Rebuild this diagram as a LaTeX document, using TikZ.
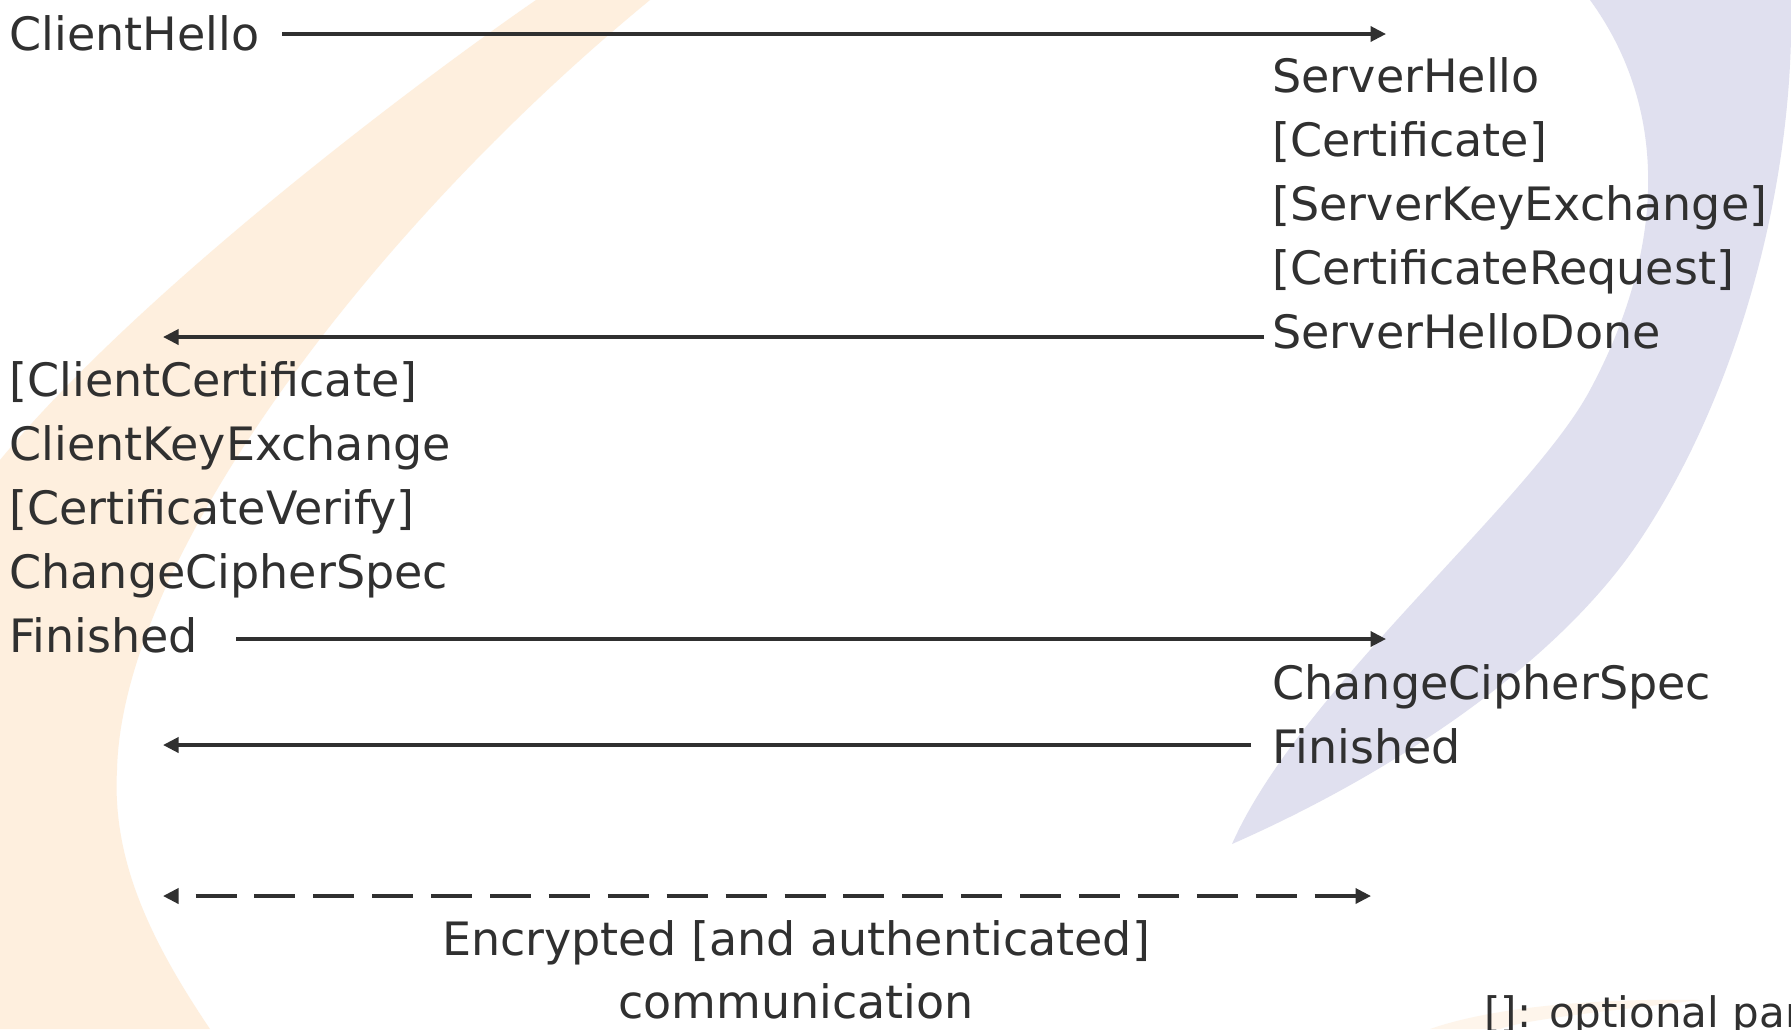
\documentclass[tikz,border=0pt]{standalone}
\usepackage{fontspec}
\setmainfont{DejaVu Sans}
\usetikzlibrary{arrows.meta}
\definecolor{ink}{HTML}{303030}
\definecolor{peach}{HTML}{FEEFDE}
\definecolor{lilac}{HTML}{E0E0EF}
\begin{document}
\begin{tikzpicture}[x=0.5pt,y=-0.5pt,
  >={Triangle[length=7.75pt,width=7.5pt]},
  msg/.style={draw=ink, line width=1.75pt, ->},
  lbl/.style={anchor=base west, inner sep=0pt, text=ink,
              font=\fontsize{23}{32}\selectfont},
  clbl/.style={lbl, anchor=base},
]
% canvas
\clip (0,0) rectangle (1791,1029);
\fill[white] (0,0) rectangle (1791,1029);

% left swoosh (peach crescent)
\fill[peach] (536,0) .. controls (420,80) and (140,290) .. (0,460)
  -- (0,1029) -- (210,1029)
  .. controls (150,940) and (112,860) .. (117,770)
  .. controls (122,560) and (370,230) .. (650,0) -- cycle;

% right swoosh (lilac crescent)
\fill[lilac] (1590,0) .. controls (1670,110) and (1665,250) .. (1590,390)
  .. controls (1530,502) and (1300,690) .. (1232,844)
  .. controls (1400,770) and (1560,660) .. (1640,540)
  .. controls (1740,390) and (1795,180) .. (1791,0) -- cycle;

% faint swoosh at the lower right
\fill[peach!60] (1430,1029) .. controls (1490,1008) and (1590,998) .. (1700,1000)
  .. controls (1620,1010) and (1530,1018) .. (1500,1029) -- cycle;

% client messages
\node[lbl] (clienthello) at (9,50) {ClientHello};
\node[lbl] (clientcert)  at (9,396) {[ClientCertificate]};
\node[lbl] (clientkx)    at (9,460) {ClientKeyExchange};
\node[lbl] (certverify)  at (9,524) {[CertificateVerify]};
\node[lbl] (clientccs)   at (9,588) {ChangeCipherSpec};
\node[lbl] (clientfin)   at (9,652) {Finished};

% server messages
\node[lbl] (serverhello) at (1272,92)  {ServerHello};
\node[lbl] (servercert)  at (1272,156) {[Certificate]};
\node[lbl] (serverkx)    at (1272,220) {[ServerKeyExchange]};
\node[lbl] (certreq)     at (1272,284) {[CertificateRequest]};
\node[lbl] (hellodone)   at (1272,348) {ServerHelloDone};
\node[lbl] (serverccs)   at (1272,699) {ChangeCipherSpec};
\node[lbl] (serverfin)   at (1272,763) {Finished};

% application data label and legend
\node[clbl] (enc1) at (796,955)  {Encrypted [and authenticated]};
\node[clbl] (enc2) at (796,1018) {communication};
\node[lbl, font=\fontsize{21}{28}\selectfont] (legend) at (1484,1027) {[]: optional par};

% arrow end points
\coordinate (m1a) at (282,34);   \coordinate (m1b) at (1386,34);
\coordinate (m2a) at (1264,337); \coordinate (m2b) at (163,337);
\coordinate (m3a) at (236,639);  \coordinate (m3b) at (1386,639);
\coordinate (m4a) at (1251,745); \coordinate (m4b) at (163,745);
\coordinate (d1)  at (163,896);  \coordinate (d2)  at (1371,896);

% handshake flights
\draw[msg] (m1a) -- (m1b);
\draw[msg] (m2a) -- (m2b);
\draw[msg] (m3a) -- (m3b);
\draw[msg] (m4a) -- (m4b);

% protected traffic in both directions
\draw[draw=ink, line width=1.75pt, <->,
      dash pattern=on 20.5pt off 8.95pt, dash phase=20.5pt] (d1) -- (d2);
\end{tikzpicture}
\end{document}
